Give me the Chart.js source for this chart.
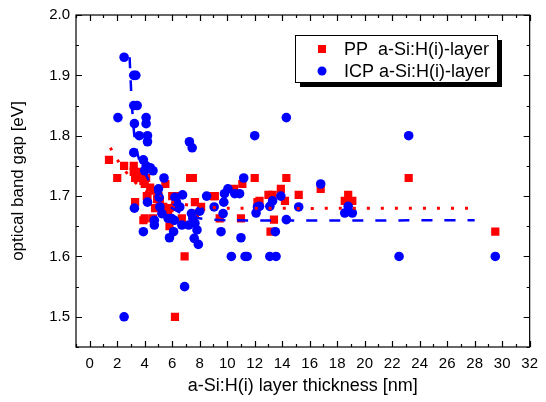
<!DOCTYPE html>
<html>
<head>
<meta charset="utf-8">
<script src="https://cdn.jsdelivr.net/npm/chart.js@4.4.0/dist/chart.umd.min.js"></script>
<style>
  html, body { margin: 0; padding: 0; background: #fff; }
  #wrap { width: 546px; height: 402px; }
</style>
</head>
<body>
<div id="wrap"><canvas id="gap-chart" width="546" height="402"></canvas></div>
<script>
// PP a-Si:H(i)-layer: thickness [nm] and optical band gap [eV]
const ppThickness = [1.4, 2.5, 2.0, 3.2, 3.2, 3.3, 3.5, 3.6, 3.9, 4.1, 4.0, 4.4, 4.6, 4.15, 3.3, 4.9,
  3.9, 4.0, 4.6, 4.2, 4.75, 5.0, 5.1, 5.35, 5.5, 5.7, 5.8, 5.8, 6.0, 6.2, 6.2, 6.3, 6.7, 6.2, 6.9,
  7.3, 7.5, 7.65, 7.65, 8.1, 9.0, 9.1, 9.45, 10.5, 11.1, 11.0, 12.0, 12.2, 12.35, 13.0, 13.3, 13.4,
  13.15, 13.9, 14.2, 14.3, 15.2, 16.8, 18.55, 18.8, 19.1, 23.2, 29.5];
const ppGap = [1.76, 1.75, 1.73, 1.75, 1.74, 1.73, 1.73, 1.74, 1.725, 1.73, 1.72, 1.714, 1.709, 1.70, 1.69, 1.695,
  1.66, 1.663, 1.663, 1.70, 1.68, 1.70, 1.69, 1.682, 1.72, 1.671, 1.68, 1.65, 1.70, 1.682, 1.70, 1.69, 1.663, 1.50, 1.60,
  1.73, 1.73, 1.69, 1.671, 1.682, 1.70, 1.70, 1.663, 1.712, 1.72, 1.663, 1.73, 1.69, 1.692, 1.702, 1.702, 1.661,
  1.641, 1.712, 1.692, 1.73, 1.702, 1.712, 1.692, 1.702, 1.692, 1.73, 1.641];

// ICP a-Si:H(i)-layer
const icpThickness = [2.5, 3.2, 3.35, 2.05, 3.2, 3.45, 3.25, 4.1, 4.1, 3.6, 4.2, 4.2, 3.2, 3.9, 4.1, 4.4,
  4.6, 4.0, 5.4, 7.25, 7.45, 11.2, 12.0, 14.3, 23.2, 16.8, 13.9, 12.1, 12.35, 13.1, 13.3, 15.2, 14.3,
  13.5, 13.1, 13.55, 11.45, 18.55, 19.1, 18.8, 22.5, 29.5, 2.5, 6.9, 3.25, 3.9, 4.2, 4.7, 4.7, 5.0,
  5.05, 5.1, 5.25, 5.8, 6.1, 6.15, 6.7, 6.75, 6.3, 6.55, 7.2, 7.4, 7.5, 7.65, 7.8, 7.6, 7.9, 8.0,
  8.5, 9.05, 9.55, 9.7, 9.75, 9.8, 10.05, 10.3, 10.55, 10.9, 11.0, 11.3, 12.2, 5.95, 6.2, 5.7];
const icpGap = [1.93, 1.90, 1.90, 1.83, 1.85, 1.85, 1.82, 1.83, 1.82, 1.80, 1.80, 1.79, 1.772, 1.76, 1.75, 1.747,
  1.742, 1.742, 1.73, 1.79, 1.78, 1.73, 1.80, 1.83, 1.80, 1.72, 1.70, 1.672, 1.683, 1.683, 1.692, 1.682, 1.661,
  1.641, 1.60, 1.60, 1.60, 1.672, 1.672, 1.683, 1.60, 1.60, 1.50, 1.55, 1.68, 1.641, 1.69, 1.66, 1.652, 1.712,
  1.698, 1.682, 1.671, 1.631, 1.641, 1.66, 1.652, 1.702, 1.69, 1.682, 1.652, 1.671, 1.663, 1.655, 1.644, 1.63, 1.62, 1.675,
  1.70, 1.682, 1.641, 1.671, 1.69, 1.704, 1.712, 1.60, 1.704, 1.704, 1.631, 1.60, 1.682, 1.663, 1.698, 1.663];

// fit curves
const fitPPx = [1.5, 2.0, 3.0, 4.0, 5.0, 6.0, 8.0, 10.0, 28.0];
const fitPPy = [1.78, 1.76, 1.73, 1.71, 1.70, 1.69, 1.683, 1.68, 1.68];
const fitICPx = [2.9, 3.0, 3.1, 3.3, 3.6, 4.2, 5.0, 6.0, 7.5, 10.0, 28.0];
const fitICPy = [1.93, 1.88, 1.84, 1.79, 1.76, 1.73, 1.70, 1.68, 1.665, 1.66, 1.66];

const legendLabels = ['PP  a-Si:H(i)-layer', 'ICP a-Si:H(i)-layer'];

const toPoints = (xs, ys) => xs.map((x, i) => ({ x: x, y: ys[i] }));

const FONT = 'Liberation Sans, Arial, sans-serif';

// frame, inward ticks on all four sides and the boxed legend
const framePlugin = {
  id: 'frame',
  afterDraw(chart) {
    const { ctx, chartArea: a, scales } = chart;
    const xs = scales.x, ys = scales.y;
    ctx.save();
    ctx.strokeStyle = '#000';
    ctx.lineWidth = 1.2;
    ctx.strokeRect(a.left, a.top, a.right - a.left, a.bottom - a.top);

    for (let v = -1; v <= 32; v++) {
      const px = Math.round(xs.getPixelForValue(v)) + 0.5;
      const len = v % 2 === 0 ? 6 : 3;
      ctx.beginPath();
      ctx.moveTo(px, a.bottom); ctx.lineTo(px, a.bottom - len);
      ctx.moveTo(px, a.top); ctx.lineTo(px, a.top + len);
      ctx.stroke();
    }
    for (let k = 0; k <= 11; k++) {
      const v = 1.45 + k * 0.05;
      const py = Math.round(ys.getPixelForValue(v)) + 0.5;
      const len = k % 2 === 1 ? 6 : 3;
      ctx.beginPath();
      ctx.moveTo(a.left, py); ctx.lineTo(a.left + len, py);
      ctx.moveTo(a.right, py); ctx.lineTo(a.right - len, py);
      ctx.stroke();
    }

    // legend box with a black drop shadow
    const bx = 295, by = 35, bw = 202, bh = 47;
    ctx.fillStyle = '#fff';
    ctx.fillRect(bx, by, bw, bh);
    ctx.fillStyle = '#000';
    ctx.fillRect(bx + bw, by + 5, 5, bh);
    ctx.fillRect(bx + 5, by + bh, bw, 5);
    ctx.lineWidth = 1;
    ctx.strokeRect(bx + 0.5, by + 0.5, bw, bh);

    const ds = chart.data.datasets;
    const rows = [ds[3], ds[2]];
    ctx.font = '18px ' + FONT;
    ctx.textBaseline = 'middle';
    rows.forEach((d, i) => {
      const cy = by + 14 + i * 22;
      ctx.fillStyle = d.backgroundColor;
      if (d.pointStyle === 'rect') {
        ctx.fillRect(318, cy - 4, 8, 8);
      } else {
        ctx.beginPath();
        ctx.arc(322, cy, 4.5, 0, Math.PI * 2);
        ctx.fill();
      }
      ctx.fillStyle = '#000';
      ctx.fillText(legendLabels[i], 344, cy + 1);
    });
    ctx.restore();
  }
};

new Chart(document.getElementById('gap-chart'), {
  type: 'scatter',
  data: {
    datasets: [
      {
        data: toPoints(fitICPx, fitICPy),
        showLine: true, pointRadius: 0, borderColor: '#0000ff',
        borderWidth: 2.5, borderDash: [11, 12], tension: 0.3, fill: false
      },
      {
        data: toPoints(fitPPx, fitPPy),
        showLine: true, pointRadius: 0, borderColor: '#ff0000',
        borderWidth: 3, borderDash: [3, 11], tension: 0.3, fill: false
      },
      {
        data: toPoints(icpThickness, icpGap),
        pointStyle: 'circle', pointRadius: 4.8, borderWidth: 0,
        backgroundColor: '#0000ff', borderColor: '#0000ff'
      },
      {
        data: toPoints(ppThickness, ppGap),
        pointStyle: 'rect', pointRadius: 5.8, borderWidth: 0,
        backgroundColor: '#ff0000', borderColor: '#ff0000'
      }
    ]
  },
  options: {
    responsive: false,
    animation: false,
    layout: { padding: { top: 10, right: 13, left: 0, bottom: 0 } },
    plugins: { legend: { display: false }, tooltip: { enabled: false } },
    scales: {
      x: {
        type: 'linear', min: -1, max: 32,
        afterFit: s => { s.height = 55; },
        grid: { display: false, drawTicks: false },
        border: { display: false },
        ticks: {
          stepSize: 1, autoSkip: false, maxRotation: 0, padding: 8,
          color: '#000', font: { family: FONT, size: 15 },
          callback: v => (v % 2 === 0 ? String(v) : '')
        },
        title: {
          display: true, text: 'a-Si:H(i) layer thickness [nm]',
          color: '#000', font: { family: FONT, size: 18 },
          padding: { top: 0, bottom: 5 }
        }
      },
      y: {
        type: 'linear', min: 1.45, max: 2.0,
        afterFit: s => { s.width = 76; },
        grid: { display: false, drawTicks: false },
        border: { display: false },
        ticks: {
          stepSize: 0.05, autoSkip: false, padding: 6,
          color: '#000', font: { family: FONT, size: 15 },
          callback: v => (Math.round(v * 100) % 10 === 0 ? v.toFixed(1) : '')
        },
        title: {
          display: true, text: 'optical band gap [eV]',
          color: '#000', font: { family: FONT, size: 17 },
          padding: { top: 8, bottom: 0 }
        }
      }
    }
  },
  plugins: [framePlugin]
});
</script>
</body>
</html>
